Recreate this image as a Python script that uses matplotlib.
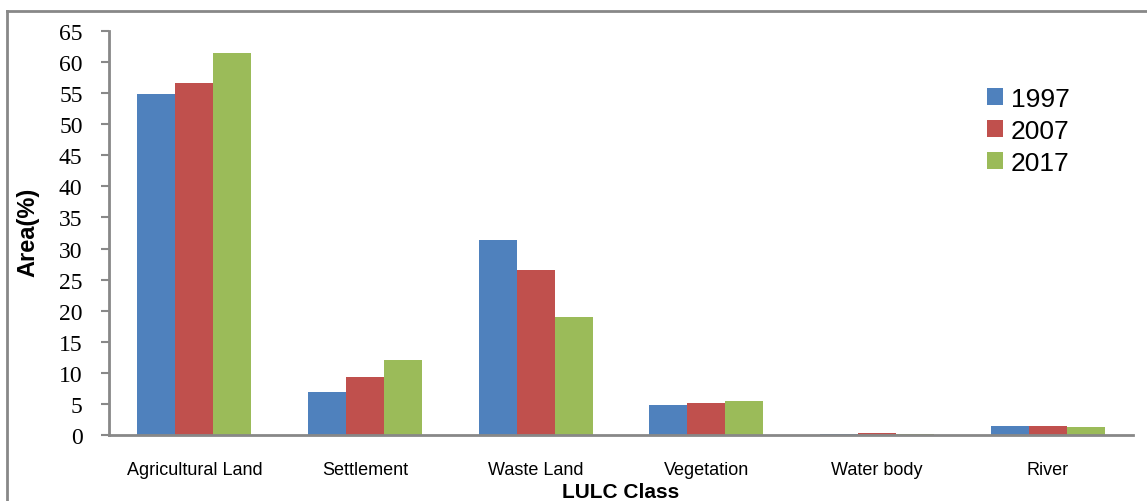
import numpy as np
import matplotlib
matplotlib.use("Agg")
import matplotlib.pyplot as plt
from matplotlib.lines import Line2D

# land use / land cover share per class, by year
classes = ["Agricultural Land", "Settlement", "Waste Land", "Vegetation", "Water body", "River"]
years = ["1997", "2007", "2017"]
area_1997 = [54.8, 6.9, 31.4, 4.9, 0.2, 1.5]
area_2007 = [56.6, 9.4, 26.6, 5.2, 0.4, 1.5]
area_2017 = [61.5, 12.0, 19.0, 5.5, 0.2, 1.3]
yticks = list(range(0, 70, 5))

colors = ["#4F81BD", "#C0504D", "#9BBB59"]
axis_grey = "#888888"

fig = plt.figure(figsize=(11.47, 5.02), dpi=100)
ax = fig.add_axes([109 / 1147, 1 - 436 / 502, (1133 - 109) / 1147, (436 - 32) / 502])

x = np.arange(len(classes))
w = 0.223
for i, (vals, yr) in enumerate(zip([area_1997, area_2007, area_2017], years)):
    ax.bar(x + (i - 1) * w, vals, width=w, color=colors[i], label=yr, linewidth=0)

ax.set_xlim(-0.5, len(classes) - 0.5)
ax.set_ylim(0, 65)
ax.set_yticks(yticks)
ax.set_xticks(x)
ax.set_xticklabels(classes)
ax.tick_params(axis="y", direction="out", length=6, width=1.5, color=axis_grey, pad=13,
               labelsize=17, labelfontfamily="Liberation Serif")
ax.tick_params(axis="x", length=0, pad=19, labelsize=13, labelfontfamily="Liberation Sans")

for s in ["top", "right"]:
    ax.spines[s].set_visible(False)
for s in ["left", "bottom"]:
    ax.spines[s].set_color(axis_grey)
    ax.spines[s].set_linewidth(2)

fig.text(28 / 1147, 1 - 232 / 502, "Area(%)", rotation=90, ha="center", va="center",
         fontfamily="Liberation Sans", fontweight="bold", fontsize=17)
fig.text(621 / 1147, 1 - 493 / 502, "LULC Class", ha="center", va="center",
         fontfamily="Liberation Sans", fontweight="bold", fontsize=15)

ax.legend(loc="upper left", bbox_to_anchor=(0.834, 0.92), frameon=False,
          prop={"family": "Liberation Sans", "size": 19},
          handlelength=0.6, handleheight=0.6, handletextpad=0.3, labelspacing=0.3)

# outer frame: only top and left edges are visible
fig.add_artist(Line2D([7 / 1147, 1], [1 - 12 / 502, 1 - 12 / 502], transform=fig.transFigure,
                      color=axis_grey, lw=2))
fig.add_artist(Line2D([7 / 1147, 7 / 1147], [0, 1 - 12 / 502], transform=fig.transFigure,
                      color=axis_grey, lw=2))

fig.savefig("out.png", dpi=100)
